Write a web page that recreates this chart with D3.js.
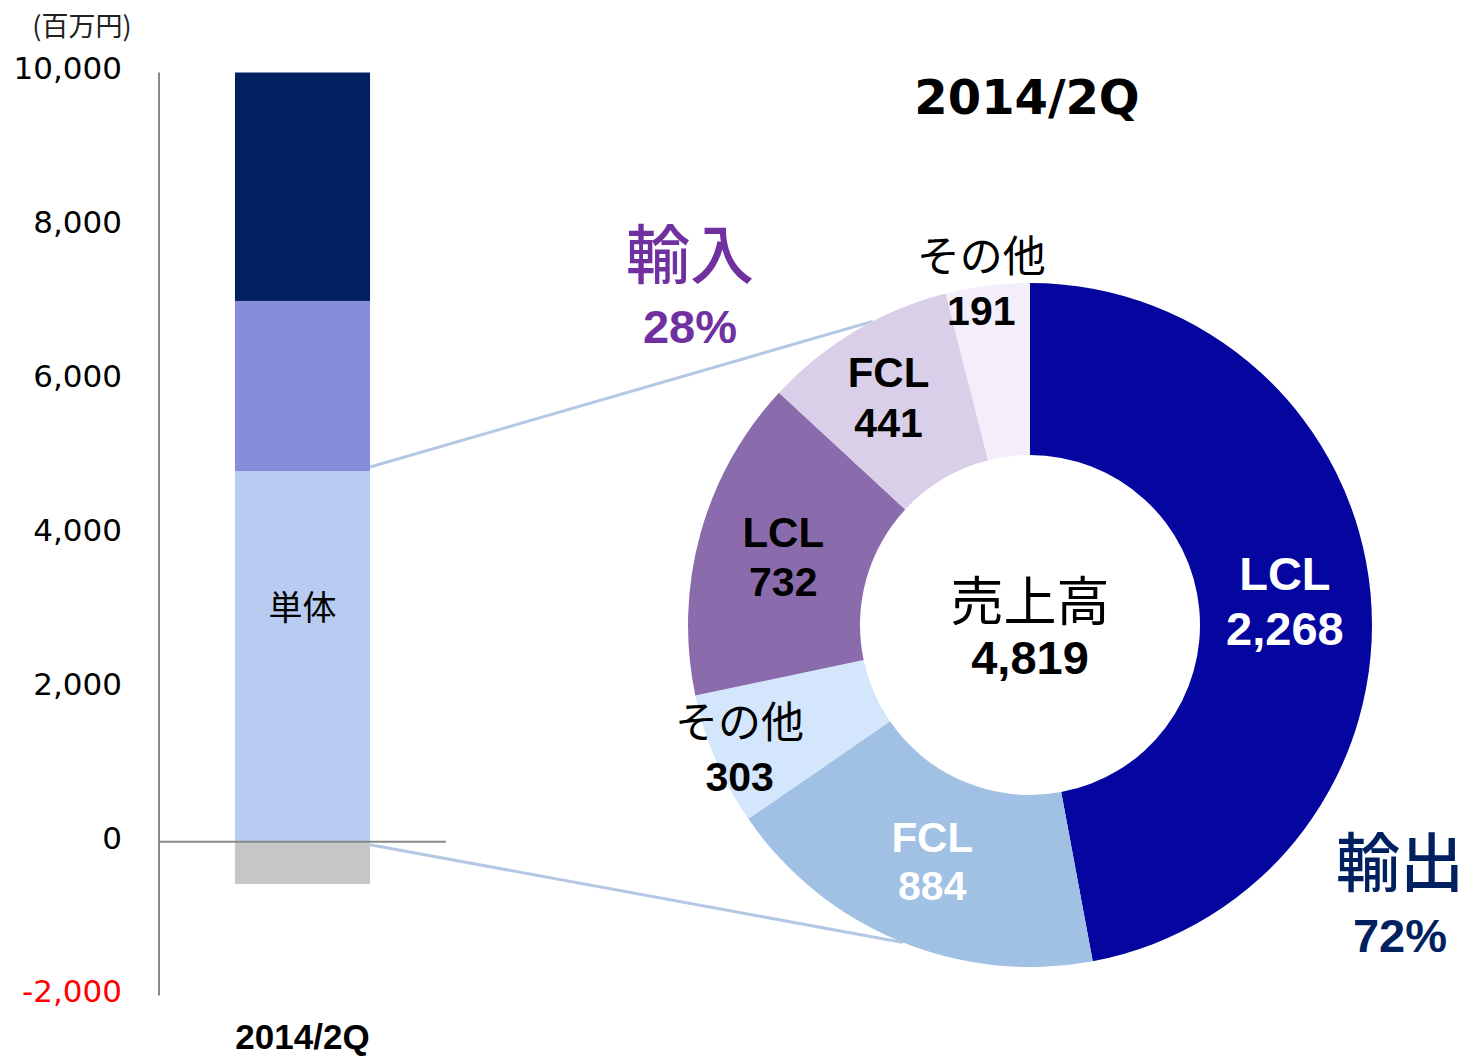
<!DOCTYPE html>
<html lang="ja">
<head>
<meta charset="UTF-8" />
<style>
  body { margin: 0; background: #fff; }
  svg { display: block; }
</style>
</head>
<body>
<svg id="chart" width="1472" height="1058"></svg>
<script src="https://d3js.org/d3.v7.min.js"></script>
<script>
// ---- data ----
var barCategory = ["2014/2Q"];
var barParts = ["単体", "part2", "part3"];
var barValues = [4819, 2211, 2970];
var barNegative = -550;
var barColors = ["#b7ccf0", "#888ddb", "#002060"];
var yTicks = [-2000, 0, 2000, 4000, 6000, 8000, 10000];

var donutNames = ["LCL", "FCL", "その他", "LCL", "FCL", "その他"];
var donutValues = [2268, 884, 303, 732, 441, 191];
var donutColors = ["#0505a0", "#a0c0e4", "#d4e6fc", "#8a6cac", "#dacfe8", "#f3eefa"];
var donutTextColors = ["#fff", "#fff", "#000", "#000", "#000", "#000"];
var donutTotal = 4819;
var shareLabels = [["輸出", "72%"], ["輸入", "28%"]];

// ---- setup ----
var svg = d3.select("#chart");
var JP = "'Noto Sans CJK JP', 'Noto Sans', sans-serif";
var AR = "'Liberation Sans', Arial, sans-serif";
var VD = "'DejaVu Sans', Verdana, sans-serif";
var fmt = v => d3.format(",")(v).replace("−", "-");

var y = d3.scaleLinear().domain([-2000, 10000]).range([995.5, 72.5]);
var x = d3.scaleBand().domain(barCategory).range([159, 446]).padding(0.36);

// unit label
svg.append("text").attr("x", 82).attr("y", 27).attr("dy", "0.35em")
  .attr("text-anchor", "middle").attr("font-family", JP).attr("font-size", 27)
  .attr("fill", "#222").text("(百万円)");

// y tick labels
svg.append("g").selectAll("text").data(yTicks).enter().append("text")
  .attr("x", 122).attr("y", d => y(d) - 4).attr("dy", "0.35em")
  .attr("text-anchor", "end").attr("font-family", VD).attr("font-size", 31)
  .attr("fill", d => d < 0 ? "#ff0000" : "#000")
  .text(fmt);

// stacked bar
var stack = [];
var acc = 0;
barValues.forEach(function (v, i) {
  stack.push({ y0: acc, y1: acc + v, color: barColors[i], name: barParts[i] });
  acc += v;
});
var bx = x(barCategory[0]);
svg.append("g").selectAll("rect").data(stack).enter().append("rect")
  .attr("x", bx).attr("width", x.bandwidth())
  .attr("y", d => y(d.y1)).attr("height", d => y(d.y0) - y(d.y1))
  .attr("fill", d => d.color);
svg.append("rect").attr("x", bx).attr("width", x.bandwidth())
  .attr("y", y(0)).attr("height", y(barNegative) - y(0)).attr("fill", "#c6c6c6");

svg.append("text").attr("x", bx + x.bandwidth() / 2).attr("y", y(barValues[0]) + 137)
  .attr("dy", "0.35em").attr("text-anchor", "middle").attr("font-family", JP)
  .attr("font-size", 34).text(barParts[0]);

// axes lines
svg.append("line").attr("x1", 159).attr("x2", 159).attr("y1", y(10000)).attr("y2", y(-2000))
  .attr("stroke", "#888").attr("stroke-width", 2);
svg.append("line").attr("x1", 159).attr("x2", 446).attr("y1", y(0)).attr("y2", y(0))
  .attr("stroke", "#888").attr("stroke-width", 2);

svg.append("text").attr("x", bx + x.bandwidth() / 2).attr("y", 1037).attr("dy", "0.35em")
  .attr("text-anchor", "middle").attr("font-family", AR).attr("font-weight", "bold")
  .attr("font-size", 35).text(barCategory[0]);

// donut
var cx = 1030, cy = 625, rOut = 342, rIn = 170;
var pie = d3.pie().sort(null).value(d => d)(donutValues);
var arc = d3.arc().innerRadius(rIn).outerRadius(rOut);

// connector lines
function edgePoint(deg) {
  var a = deg * Math.PI / 180;
  return [cx + rOut * Math.sin(a), cy - rOut * Math.cos(a)];
}
var pTop = edgePoint(332.6), pBot = edgePoint(201.8);
var bRight = bx + x.bandwidth();
svg.append("line").attr("x1", bRight).attr("y1", y(barValues[0]) - 4)
  .attr("x2", pTop[0]).attr("y2", pTop[1]).attr("stroke", "#b4c8e4").attr("stroke-width", 3);
svg.append("line").attr("x1", bRight).attr("y1", y(0) + 3)
  .attr("x2", pBot[0]).attr("y2", pBot[1]).attr("stroke", "#b4c8e4").attr("stroke-width", 3);

var g = svg.append("g").attr("transform", "translate(" + cx + "," + cy + ")");
g.selectAll("path").data(pie).enter().append("path")
  .attr("d", arc).attr("fill", (d, i) => donutColors[i]);

// segment labels
var labelR = [256, 256, 316, 256, 265, 344];
var labelShift = [0, 0, 0, 0, -6, -6];
var lineGap = [55, 49, 54, 49, 50, 53];
pie.forEach(function (d, i) {
  var a = (d.startAngle + d.endAngle) / 2;
  var lx = labelR[i] * Math.sin(a) + labelShift[i], ly = -labelR[i] * Math.cos(a);
  var isJp = donutNames[i] === "その他";
  var big = i === 0;
  g.append("text").attr("x", lx).attr("y", ly - lineGap[i] / 2).attr("dy", "0.35em")
    .attr("text-anchor", "middle")
    .attr("font-family", isJp ? JP : AR)
    .attr("font-weight", isJp ? "normal" : "bold")
    .attr("font-size", isJp ? 43 : (big ? 47 : 42))
    .attr("fill", donutTextColors[i]).text(donutNames[i]);
  g.append("text").attr("x", lx).attr("y", ly + lineGap[i] / 2).attr("dy", "0.35em")
    .attr("text-anchor", "middle").attr("font-family", AR).attr("font-weight", "bold")
    .attr("font-size", big ? 47 : 41)
    .attr("fill", donutTextColors[i]).text(fmt(donutValues[i]));
});

// center
g.append("text").attr("x", 0).attr("y", -23).attr("dy", "0.35em").attr("text-anchor", "middle")
  .attr("font-family", JP).attr("font-size", 53).text("売上高");
g.append("text").attr("x", 0).attr("y", 33).attr("dy", "0.35em").attr("text-anchor", "middle")
  .attr("font-family", AR).attr("font-weight", "bold").attr("font-size", 47)
  .text(fmt(donutTotal));

// title
svg.append("text").attr("x", 1027).attr("y", 97).attr("dy", "0.35em").attr("text-anchor", "middle")
  .attr("font-family", VD).attr("font-weight", "bold").attr("font-size", 48).text("2014/2Q");

// share labels
var sharePos = [[1400, 864, 936, "#002060"], [690, 256, 327, "#7030a0"]];
shareLabels.forEach(function (s, i) {
  var p = sharePos[i];
  svg.append("text").attr("x", p[0]).attr("y", p[1]).attr("dy", "0.35em").attr("text-anchor", "middle")
    .attr("font-family", JP).attr("font-weight", 500).attr("font-size", 64).attr("fill", p[3]).text(s[0]);
  svg.append("text").attr("x", p[0]).attr("y", p[2]).attr("dy", "0.35em").attr("text-anchor", "middle")
    .attr("font-family", AR).attr("font-weight", "bold").attr("font-size", 47).attr("fill", p[3]).text(s[1]);
});
</script>
</body>
</html>
